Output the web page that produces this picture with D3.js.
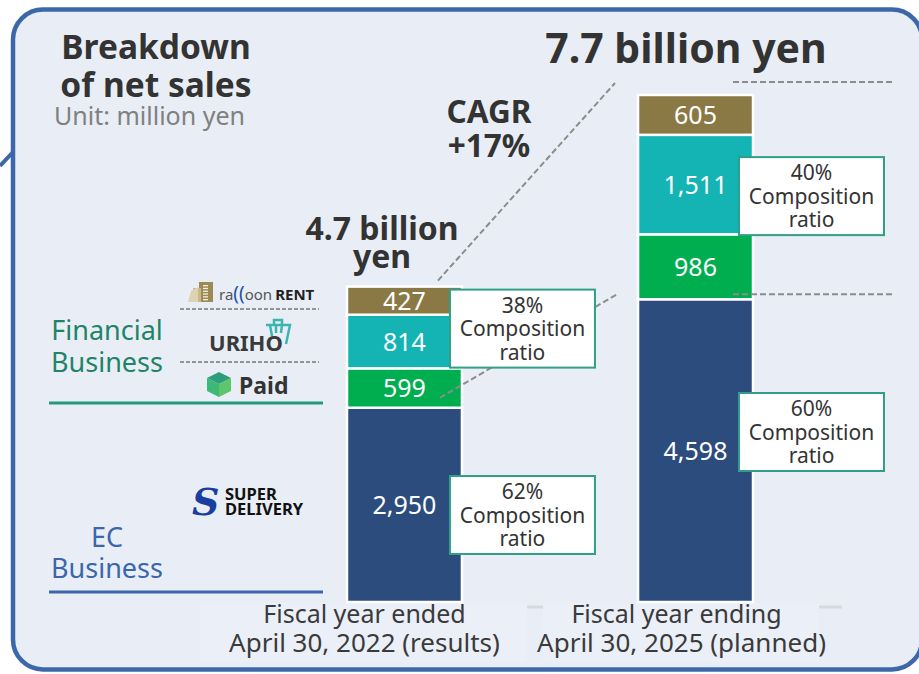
<!DOCTYPE html>
<html>
<head>
<meta charset="utf-8">
<script src="https://cdn.jsdelivr.net/npm/d3@7"></script>
<style>
  html, body { margin: 0; padding: 0; background: #fff; }
  svg { display: block; font-family: "Noto Sans", sans-serif; }
</style>
</head>
<body>
<script>
// Breakdown of net sales - stacked bars (million yen)

const periods = ["FY2022", "FY2025"];
const periodLine1 = ["Fiscal year ended", "Fiscal year ending"];
const periodLine2 = ["April 30, 2022 (results)", "April 30, 2025 (planned)"];

const ecSales = [2950, 4598];
const paidSales = [599, 986];
const urihoSales = [814, 1511];
const rentSales = [427, 605];

const totalLabels = [["4.7 billion", "yen"], ["7.7 billion yen"]];
const financialRatio = ["38%", "40%"];
const ecRatio = ["62%", "60%"];
const cagrLabel = ["CAGR", "+17%"];

const width = 919;
const height = 674;

const colors = {
  ec: "#2c4c7e",
  paid: "#00ae50",
  uriho: "#14b4b4",
  rent: "#8a7945",
  panel: "#e9eef6",
  border: "#3c68aa",
  boxLine: "#2f9f87",
  dash: "#8c8c8c",
  finText: "#1f8467",
  ecText: "#3b66ac"
};

const svg = d3.select("body").append("svg")
  .attr("width", width)
  .attr("height", height);

// panel
svg.append("line")
  .attr("x1", 0).attr("y1", 166).attr("x2", 14).attr("y2", 151)
  .attr("stroke", colors.border).attr("stroke-width", 4);

svg.append("rect")
  .attr("x", 13).attr("y", 9.5)
  .attr("width", 909).attr("height", 660)
  .attr("rx", 30)
  .attr("fill", colors.panel)
  .attr("stroke", colors.border)
  .attr("stroke-width", 4.5);

const data = periods.map((p, i) => ({
  period: p, ec: ecSales[i], paid: paidSales[i], uriho: urihoSales[i], rent: rentSales[i]
}));
const keys = ["ec", "paid", "uriho", "rent"];
const series = d3.stack().keys(keys)(data);

const x = d3.scaleBand()
  .domain(periods)
  .range([347, 753])
  .paddingInner(0.605)
  .paddingOuter(0);

const y = d3.scaleLinear().domain([0, 7700]).range([602, 95]);

// axis remnants and label backgrounds
svg.append("line")
  .attr("x1", 200).attr("x2", 842).attr("y1", 607).attr("y2", 607)
  .attr("stroke", "#d6d9de").attr("stroke-width", 3);

const labelShift = [-40, -19];
svg.selectAll("rect.lab-bg")
  .data(periods)
  .enter().append("rect")
  .attr("class", "lab-bg")
  .attr("x", (d, i) => i === 0 ? 200 : 543)
  .attr("y", 603)
  .attr("width", (d, i) => i === 0 ? 327 : 276)
  .attr("height", 59)
  .attr("fill", "#ebeff7");

// bars
svg.append("g").selectAll("g")
  .data(series)
  .enter().append("g")
  .attr("fill", (s) => colors[s.key])
  .selectAll("rect")
  .data((s) => s)
  .enter().append("rect")
  .attr("x", (d) => x(d.data.period))
  .attr("y", (d) => y(d[1]))
  .attr("width", x.bandwidth())
  .attr("height", (d) => y(d[0]) - y(d[1]))
  .attr("stroke", "#fff")
  .attr("stroke-width", 2.5);

// dashed guide lines
const dash = svg.append("g")
  .attr("stroke", colors.dash)
  .attr("stroke-width", 2)
  .attr("stroke-dasharray", "6,3")
  .attr("fill", "none");

const x1r = x(periods[0]) + x.bandwidth();
const x2l = x(periods[1]);
const x2r = x2l + x.bandwidth();
const top2 = y(d3.sum(keys, (k) => data[1][k]));
const top1 = y(d3.sum(keys, (k) => data[0][k]));
const fin1 = y(data[0].ec);
const fin2 = y(data[1].ec);

dash.append("line").attr("x1", x1r - 24).attr("y1", top1 - 6).attr("x2", x2l - 23).attr("y2", top2 - 12);
dash.append("line").attr("x1", x1r - 22).attr("y1", fin1 - 10).attr("x2", x2l - 21).attr("y2", fin2 - 5);
dash.append("line").attr("x1", x2r - 20).attr("x2", x2r + 139).attr("y1", top2 - 13).attr("y2", top2 - 13);
dash.append("line").attr("x1", x2r - 20).attr("x2", x2r + 139).attr("y1", fin2 - 5).attr("y2", fin2 - 5);

// value labels
svg.append("g").selectAll("g")
  .data(series)
  .enter().append("g")
  .selectAll("text")
  .data((s) => s)
  .enter().append("text")
  .attr("x", (d) => x(d.data.period) + x.bandwidth() / 2)
  .attr("y", (d) => (y(d[0]) + y(d[1])) / 2)
  .attr("dy", "0.36em")
  .attr("text-anchor", "middle")
  .attr("fill", "#fff")
  .attr("font-size", "25px")
  .text((d) => d3.format(",")(d[1] - d[0]));

// composition ratio boxes
function ratioBox(bx, by, pct) {
  const g = svg.append("g").attr("transform", `translate(${bx},${by})`);
  g.append("rect")
    .attr("width", 145).attr("height", 78)
    .attr("fill", "#fff")
    .attr("stroke", colors.boxLine)
    .attr("stroke-width", 2);
  g.selectAll("text")
    .data([pct, "Composition", "ratio"])
    .enter().append("text")
    .attr("x", 72.5)
    .attr("y", (d, i) => 23 + i * 23.5)
    .attr("text-anchor", "middle")
    .attr("font-size", "21px")
    .attr("fill", "#333")
    .text((d) => d);
}
ratioBox(x1r - 12, top1 + 3, financialRatio[0]);
ratioBox(x1r - 12, 476, ecRatio[0]);
ratioBox(x2r - 14, (top2 + fin2) / 2 - 40, financialRatio[1]);
ratioBox(x2r - 14, 393, ecRatio[1]);

// period labels
periods.forEach((p, i) => {
  const cx = x(p) + x.bandwidth() / 2 + labelShift[i];
  svg.append("text")
    .attr("x", cx).attr("y", 623)
    .attr("text-anchor", "middle")
    .attr("font-size", "25px").attr("fill", "#3a3a3a")
    .text(periodLine1[i]);
  svg.append("text")
    .attr("x", cx + (i === 0 ? 0 : 5)).attr("y", 652)
    .attr("text-anchor", "middle")
    .attr("font-size", "26px").attr("fill", "#3a3a3a")
    .text(periodLine2[i]);
});

// headings
svg.selectAll("text.title")
  .data(["Breakdown", "of net sales"])
  .enter().append("text")
  .attr("class", "title")
  .attr("x", 156).attr("y", (d, i) => 59 + i * 38)
  .attr("text-anchor", "middle")
  .attr("font-weight", "bold").attr("font-size", "33.5px").attr("fill", "#333")
  .text((d) => d);

svg.append("text")
  .attr("x", 54).attr("y", 125)
  .attr("font-size", "25px").attr("fill", "#808080")
  .text("Unit: million yen");

svg.selectAll("text.cagr")
  .data(cagrLabel)
  .enter().append("text")
  .attr("class", "cagr")
  .attr("x", 489).attr("y", (d, i) => 123 + i * 34)
  .attr("text-anchor", "middle")
  .attr("font-weight", "bold").attr("font-size", "31.5px").attr("fill", "#333")
  .text((d) => d);

svg.selectAll("text.tot1")
  .data(totalLabels[0])
  .enter().append("text")
  .attr("class", "tot1")
  .attr("x", 382).attr("y", (d, i) => 240 + i * 28)
  .attr("text-anchor", "middle")
  .attr("font-weight", "bold").attr("font-size", "32px").attr("fill", "#333")
  .text((d) => d);

svg.append("text")
  .attr("x", 686).attr("y", 63)
  .attr("text-anchor", "middle")
  .attr("font-weight", "bold").attr("font-size", "41px").attr("fill", "#333")
  .text(totalLabels[1][0]);

// business segment labels
svg.selectAll("text.fin")
  .data(["Financial", "Business"])
  .enter().append("text")
  .attr("class", "fin")
  .attr("x", 107).attr("y", (d, i) => 340 + i * 32)
  .attr("text-anchor", "middle")
  .attr("font-size", "27px").attr("fill", colors.finText)
  .text((d) => d);

svg.selectAll("text.ec")
  .data(["EC", "Business"])
  .enter().append("text")
  .attr("class", "ec")
  .attr("x", 107).attr("y", (d, i) => 547 + i * 31)
  .attr("text-anchor", "middle")
  .attr("font-size", "27px").attr("fill", colors.ecText)
  .text((d) => d);

svg.append("line")
  .attr("x1", 49).attr("x2", 323).attr("y1", 403).attr("y2", 403)
  .attr("stroke", "#25977a").attr("stroke-width", 3);
svg.append("line")
  .attr("x1", 49).attr("x2", 323).attr("y1", 592).attr("y2", 592)
  .attr("stroke", colors.ecText).attr("stroke-width", 3);

const sep = svg.append("g")
  .attr("stroke", "#777").attr("stroke-width", 1.5).attr("stroke-dasharray", "4,2");
sep.append("line").attr("x1", 180).attr("x2", 319).attr("y1", 309).attr("y2", 309);
sep.append("line").attr("x1", 180).attr("x2", 319).attr("y1", 362).attr("y2", 362);

// raccoon RENT logo
const rent = svg.append("g");
rent.append("rect").attr("x", 199).attr("y", 282).attr("width", 14).attr("height", 20).attr("fill", "#9c8a55");
rent.append("rect").attr("x", 193).attr("y", 288).attr("width", 8).attr("height", 14).attr("fill", "#c7b98a");
rent.append("path").attr("d", "M188,302 L191,291 L198,287 L198,302 Z").attr("fill", "#ddd3b2");
rent.selectAll("rect.win")
  .data(d3.range(6))
  .enter().append("rect")
  .attr("class", "win")
  .attr("x", 203).attr("y", (d) => 285 + d * 2.8)
  .attr("width", 5).attr("height", 1.3).attr("fill", "#f3eedd");
const rentText = rent.append("text").attr("x", 219).attr("y", 300).attr("font-size", "15px");
rentText.append("tspan").attr("fill", "#555").text("ra");
rentText.append("tspan").attr("fill", "#1f4fa8").attr("font-size", "19px").text("((");
rentText.append("tspan").attr("fill", "#555").text("oon");
rentText.append("tspan").attr("fill", "#222").attr("font-weight", "bold").attr("dx", 3).text("RENT");

// URIHO logo
svg.append("text")
  .attr("x", 209).attr("y", 351)
  .attr("font-size", "22px").attr("font-weight", "bold").attr("fill", "#3a3a3a")
  .text("URIHO");
svg.append("path")
  .attr("d", "M266,325 L290,325 L286,344 M270,325 L272,336 M276,325 L276,333 M282,325 L281,333 M274,325 L274,320 L282,320 L282,325")
  .attr("fill", "none").attr("stroke", "#3bb5b0").attr("stroke-width", 2.5);

// Paid logo
const paid = svg.append("g");
paid.append("path").attr("d", "M219,372 L231,378 L219,384 L207,378 Z").attr("fill", "#2e9d7a");
paid.append("path").attr("d", "M207,378 L219,384 L219,397 L207,391 Z").attr("fill", "#3cb878");
paid.append("path").attr("d", "M231,378 L219,384 L219,397 L231,391 Z").attr("fill", "#5cc66a");
paid.append("text")
  .attr("x", 239).attr("y", 394)
  .attr("font-size", "23px").attr("font-weight", "bold").attr("fill", "#333")
  .text("Paid");

// SUPER DELIVERY logo
svg.append("text")
  .attr("x", 192).attr("y", 515)
  .attr("font-size", "38px").attr("font-style", "italic").attr("font-weight", "bold")
  .attr("font-family", "DejaVu Serif")
  .attr("fill", "#1a3fa0")
  .text("S");
svg.selectAll("text.sd")
  .data(["SUPER", "DELIVERY"])
  .enter().append("text")
  .attr("class", "sd")
  .attr("x", 225).attr("y", (d, i) => 500 + i * 15)
  .attr("font-size", "16.5px").attr("font-weight", "bold").attr("fill", "#111")
  .text((d) => d);
</script>
</body>
</html>
